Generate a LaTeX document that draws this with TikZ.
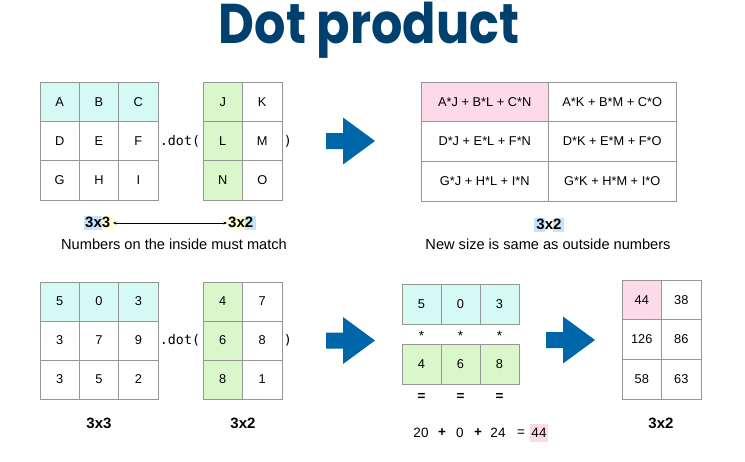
\documentclass[tikz,border=0pt]{standalone}
\usepackage{fontspec}
\setmainfont{Liberation Sans}
\newfontfamily\titlefont{Poppins}
\newfontfamily\dotfont{DejaVu Sans Mono}
\usetikzlibrary{arrows.meta,positioning}
\definecolor{titleblue}{RGB}{0,64,110}
\definecolor{arrowblue}{RGB}{0,102,170}
\definecolor{cyanfill}{RGB}{213,250,243}
\definecolor{greenfill}{RGB}{217,247,203}
\definecolor{pinkfill}{RGB}{252,218,234}
\definecolor{hlblue}{RGB}{197,228,249}
\definecolor{hlyellow}{RGB}{255,253,212}
\definecolor{gridgray}{RGB}{150,150,150}
\newcommand{\hlstrut}{\rule[-3pt]{0pt}{14.5pt}}
\newcommand{\hlpart}[2]{{\fboxsep=0pt\colorbox{#1}{\hlstrut#2}}}
\tikzset{
  cell/.style={draw=gridgray, line width=0.8pt, inner sep=0pt, font=\fontsize{12.8}{14}\selectfont},
  caption/.style={inner sep=0pt, font=\fontsize{14.6}{16}\selectfont},
  dimlabel/.style={inner sep=0pt, font=\bfseries\fontsize{15}{16}\selectfont},
  dotlbl/.style={inner sep=0pt, font=\dotfont\fontsize{13.3}{15}\selectfont},
  eqn/.style={inner sep=0pt, font=\fontsize{13.5}{15}\selectfont},
  eqnb/.style={inner sep=0pt, font=\bfseries\fontsize{13.5}{15}\selectfont},
  bigarrow/.pic={\fill[arrowblue] (0,-8) -- (17,-8) -- (17,-23.5) -- (49,0) -- (17,23.5) -- (17,8) -- (0,8) -- cycle;}
}
\begin{document}
\begin{tikzpicture}[x=1pt,y=-1pt]
\useasboundingbox (0,0) rectangle (745,461);
% title
\node[anchor=base, inner sep=0pt, text=titleblue] (title) at (369,43)
  {\scalebox{0.88}[1]{\titlefont\bfseries\fontsize{56}{56}\selectfont Dot product}};

% ---------- top left 3x3 ----------
\foreach \r/\c/\t/\f in {1/1/A/cyanfill,1/2/B/cyanfill,1/3/C/cyanfill,2/1/D/white,2/2/E/white,2/3/F/white,3/1/G/white,3/2/H/white,3/3/I/white}
  \node[cell, fill=\f, minimum width=39.33pt, minimum height=39.33pt] (a\r\c) at ({40+39.33*(\c-0.5)},{82+39.33*(\r-0.5)}) {\t};
% top 3x2
\foreach \r/\c/\t/\f in {1/1/J/greenfill,1/2/K/white,2/1/L/greenfill,2/2/M/white,3/1/N/greenfill,3/2/O/white}
  \node[cell, fill=\f, minimum width=39.5pt, minimum height=39.33pt] (b\r\c) at ({203+39.5*(\c-0.5)},{82+39.33*(\r-0.5)}) {\t};
\node[dotlbl] (dotA) at (180,141) {.dot(};
\node[dotlbl] (parA) at (288,141) {)};

% dimension labels with arrow
\node[dimlabel] (d1) at (98.5,223) {\hlpart{hlblue}{\hspace{1pt}3x}\hlpart{hlyellow}{3\hspace{2.5pt}}};
\node[dimlabel] (e1) at (241.5,223) {\hlpart{hlyellow}{\hspace{1pt}3x}\hlpart{hlblue}{2\hspace{2.5pt}}};
\draw[{Stealth[length=3.5pt,width=3pt]}-{Stealth[length=3.5pt,width=3pt]}, line width=0.6pt] (d1.east) -- (e1.west);
\node[caption] (capA) at (174,244) {Numbers on the inside must match};

% arrow 1
\pic at (326,141) {bigarrow};

% ---------- top result ----------
\foreach \r/\c/\t/\f in {1/1/{A*J + B*L + C*N}/pinkfill,1/2/{A*K + B*M + C*O}/white,2/1/{D*J + E*L + F*N}/white,2/2/{D*K + E*M + F*O}/white,3/1/{G*J + H*L + I*N}/white,3/2/{G*K + H*M + I*O}/white}
  \node[cell, fill=\f, minimum width=127.5pt, minimum height=39.67pt] (c\r\c) at ({421+127.5*(\c-0.5)},{82+39.67*(\r-0.5)}) {\t};
\node[dimlabel] (f1) at (549,225) {\hlpart{hlblue}{\hspace{2pt}3}x\hlpart{hlblue}{2\hspace{2pt}}};
\node[caption] (capB) at (548,244) {New size is same as outside numbers};

% ---------- bottom left 3x3 ----------
\foreach \r/\c/\t/\f in {1/1/5/cyanfill,1/2/0/cyanfill,1/3/3/cyanfill,2/1/3/white,2/2/7/white,2/3/9/white,3/1/3/white,3/2/5/white,3/3/2/white}
  \node[cell, fill=\f, minimum width=39.33pt, minimum height=39pt] (g\r\c) at ({40+39.33*(\c-0.5)},{282+39*(\r-0.5)}) {\t};
\foreach \r/\c/\t/\f in {1/1/4/greenfill,1/2/7/white,2/1/6/greenfill,2/2/8/white,3/1/8/greenfill,3/2/1/white}
  \node[cell, fill=\f, minimum width=39.5pt, minimum height=39pt] (h\r\c) at ({203+39.5*(\c-0.5)},{282+39*(\r-0.5)}) {\t};
\node[dotlbl] (dotB) at (180,340.5) {.dot(};
\node[dotlbl] (parB) at (288,340.5) {)};
\node[dimlabel] (lg) at (99,423) {3x3};
\node[dimlabel] (lh) at (243,423) {3x2};

% arrow 2
\pic at (326,340.5) {bigarrow};

% ---------- bottom middle vectors ----------
\foreach \c/\t in {1/5,2/0,3/3}
  \node[cell, fill=cyanfill, minimum width=39pt, minimum height=40pt] (v\c) at ({402+39*(\c-0.5)},304) {\t};
\foreach \c/\t in {1/4,2/6,3/8}
  \node[cell, fill=greenfill, minimum width=39pt, minimum height=40pt] (w\c) at ({402+39*(\c-0.5)},364) {\t};
\foreach \c in {1,2,3} {
  \node[eqn] (s\c) at ({402+39*(\c-0.5)},336) {*};
  \node[eqnb] (q\c) at ({402+39*(\c-0.5)},397) {=};
}
\node[eqn] (n1) at (421,433) {20};
\node[eqnb] (p1) at (442,433) {+};
\node[eqn] (n2) at (460,433) {0};
\node[eqnb] (p2) at (478,433) {+};
\node[eqn] (n3) at (498,433) {24};
\node[eqn] (p3) at (521,433) {=};
\node[eqn, fill=pinkfill, inner xsep=1.5pt, minimum height=18pt] (n4) at (539,433) {44};

% arrow 3
\pic at (546,340) {bigarrow};

% ---------- bottom result ----------
\foreach \r/\c/\t/\f in {1/1/44/pinkfill,1/2/38/white,2/1/126/white,2/2/86/white,3/1/58/white,3/2/63/white}
  \node[cell, fill=\f, minimum width=39.5pt, minimum height=39.67pt] (r\r\c) at ({622+39.5*(\c-0.5)},{280+39.67*(\r-0.5)}) {\t};
\node[dimlabel] (lr) at (661,423) {3x2};
\end{tikzpicture}
\end{document}
